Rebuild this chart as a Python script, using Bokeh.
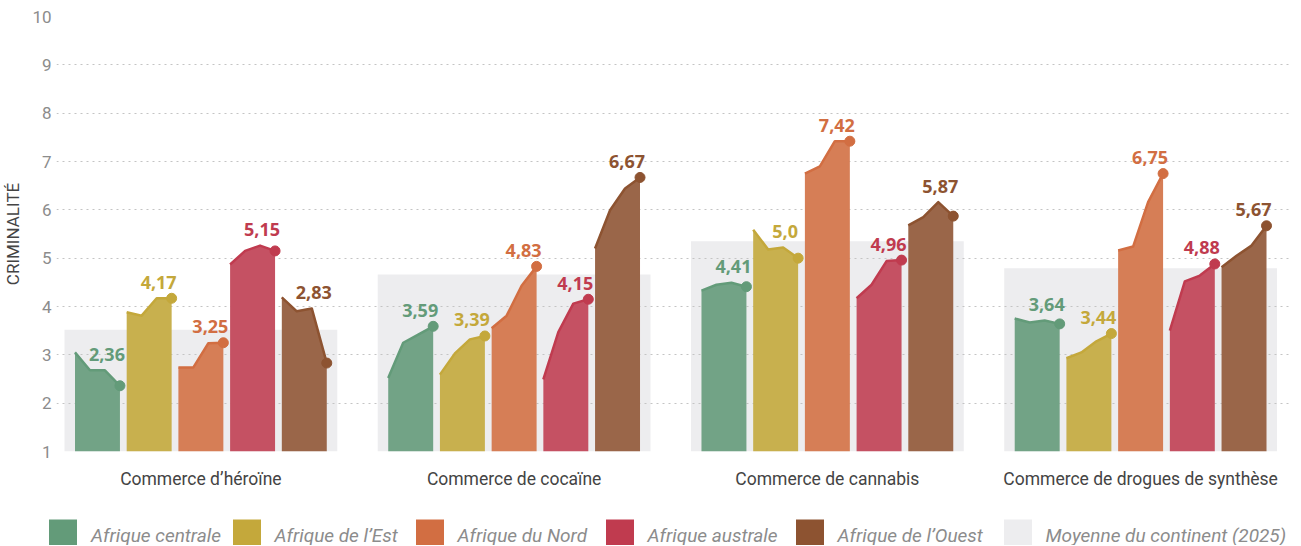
import numpy as np
from bokeh.plotting import figure
from bokeh.layouts import column, row
from bokeh.models import Range1d, FixedTicker, Legend, LegendItem
from bokeh.embed import file_html
from bokeh.resources import INLINE
from bokeh.core.properties import value

# ---------------- data ----------------
categories = ["Commerce d’héroïne", "Commerce de cocaïne",
              "Commerce de cannabis", "Commerce de drogues de synthèse"]
regions = ["Afrique centrale", "Afrique de l’Est", "Afrique du Nord",
           "Afrique australe", "Afrique de l’Ouest"]
years = [2019, 2021, 2023, 2025]

# one list of 4 yearly scores per category
afrique_centrale = [[3.05, 2.68, 2.68, 2.36], [2.52, 3.25, 3.42, 3.59],
                    [4.33, 4.45, 4.49, 4.41], [3.75, 3.67, 3.71, 3.64]]
afrique_est = [[3.88, 3.81, 4.17, 4.17], [2.59, 3.03, 3.32, 3.39],
               [5.59, 5.18, 5.22, 5.00], [2.93, 3.05, 3.28, 3.44]]
afrique_nord = [[2.74, 2.74, 3.24, 3.25], [3.55, 3.81, 4.43, 4.83],
                [6.75, 6.90, 7.42, 7.42], [5.16, 5.24, 6.16, 6.75]]
afrique_australe = [[4.87, 5.15, 5.26, 5.15], [2.49, 3.47, 4.06, 4.15],
                    [4.17, 4.45, 4.94, 4.96], [3.50, 4.52, 4.64, 4.88]]
afrique_ouest = [[4.19, 3.90, 3.96, 2.83], [5.20, 5.99, 6.44, 6.67],
                 [5.68, 5.85, 6.16, 5.87], [4.81, 5.05, 5.26, 5.67]]
moyenne_continent = [3.52, 4.66, 5.35, 4.79]
avg_label = "Moyenne du continent (2025)"
y_ticks = [1, 2, 3, 4, 5, 6, 7, 8, 9, 10]

series = [afrique_centrale, afrique_est, afrique_nord, afrique_australe, afrique_ouest]

# ---------------- style ----------------
main_colors = ["#639B79", "#C4A83B", "#D26E42", "#C03B4F", "#8D5331"]
fill_colors = ["#72A386", "#C8B04E", "#D67E56", "#C55163", "#9A6649"]
bg_color = "#EDEDEF"
PX = 313.5                 # pixels per category unit
BAR_W = 45 / PX
BAR_PITCH = 51.75 / PX
BG_W = 273 / PX
FONT = "Roboto"
W = 1298
LEGEND_SWATCH_X = [48.5, 232, 415, 605, 795, 1003]   # pixel position of each swatch

p = figure(width=W, height=500,
           min_border_left=55, min_border_right=8, min_border_top=16, min_border_bottom=49,
           x_range=Range1d(-0.4609, 3.4785), y_range=Range1d(1, 10),
           output_backend="svg", toolbar_location=None)
p.outline_line_color = None
p.xgrid.visible = False
p.ygrid.grid_line_color = "#C4C4C4"
p.ygrid.grid_line_dash = "2 4"
p.ygrid.grid_line_width = 1

# continental average background
p.quad(left=[i - BG_W / 2 for i in range(len(categories))],
       right=[i + BG_W / 2 for i in range(len(categories))],
       bottom=[1] * len(categories), top=moyenne_continent,
       fill_color=bg_color, line_color=None, level="image")

for j, (name, data) in enumerate(zip(regions, series)):
    xs_p, ys_p, xs_l, ys_l = [], [], [], []
    dot_x, dot_y, lab_x, lab_y, lab_t = [], [], [], [], []
    for i, vals in enumerate(data):
        left = i + (j - 2) * BAR_PITCH - BAR_W / 2
        right = left + BAR_W
        px = [left + (yr - years[0]) / (years[-1] - years[0]) * BAR_W for yr in years]
        xs_p.append([left] + px + [right])
        ys_p.append([1] + list(vals) + [1])
        xs_l.append(px)
        ys_l.append(list(vals))
        dot_x.append(px[-1]); dot_y.append(vals[-1])
        lab_x.append(right); lab_y.append(max(vals[1:]))
        s = f"{vals[-1]:.2f}"
        if s.endswith("0"):
            s = s[:-1]
        lab_t.append(s.replace(".", ","))
    p.patches(xs_p, ys_p, fill_color=fill_colors[j], line_color=None)
    p.multi_line(xs_l, ys_l, line_color=main_colors[j], line_width=2.5, line_join="round")
    p.scatter(dot_x, dot_y, size=10, fill_color=main_colors[j], line_color=main_colors[j])
    p.text(lab_x, lab_y, text=lab_t, x_offset=-13, y_offset=-16,
           text_align="center", text_baseline="middle",
           text_font=value("Open Sans"), text_font_style="bold",
           text_font_size="18px", text_color=main_colors[j])

# axes
p.yaxis.ticker = FixedTicker(ticks=y_ticks)
p.yaxis.axis_line_color = None
p.yaxis.major_tick_out = 0
p.yaxis.major_tick_in = 0
p.yaxis.minor_tick_out = 0
p.yaxis.minor_tick_in = 0
p.yaxis.major_label_standoff = 5
p.yaxis.major_label_text_font = FONT
p.yaxis.major_label_text_font_size = "17px"
p.yaxis.major_label_text_color = "#8C8C8C"
p.yaxis.axis_label = "CRIMINALITÉ"
p.yaxis.axis_label_text_font = FONT
p.yaxis.axis_label_text_font_style = "normal"
p.yaxis.axis_label_text_font_size = "17px"
p.yaxis.axis_label_text_color = "#444444"
p.yaxis.axis_label_standoff = 6

p.xaxis.ticker = FixedTicker(ticks=list(range(len(categories))))
p.xaxis.major_label_overrides = {i: c for i, c in enumerate(categories)}
p.xaxis.axis_line_color = None
p.xaxis.major_tick_out = 0
p.xaxis.major_tick_in = 0
p.xaxis.minor_tick_out = 0
p.xaxis.minor_tick_in = 0
p.xaxis.major_label_standoff = 17
p.xaxis.major_label_text_font = FONT
p.xaxis.major_label_text_font_size = "17.5px"
p.xaxis.major_label_text_color = "#444444"

# ---------------- legend strip ----------------
leg = figure(width=W, height=45, min_border=0, min_border_left=0, min_border_right=0,
             min_border_top=0, min_border_bottom=0,
             x_range=Range1d(0, 1), y_range=Range1d(0, 1),
             output_backend="svg", toolbar_location=None)
leg.axis.visible = False
leg.grid.visible = False
leg.outline_line_color = None
for k, (name, c) in enumerate(zip(regions + [avg_label], main_colors + [bg_color])):
    # swatch renderer kept outside the visible range; only its legend entry shows
    r = leg.quad(left=[-3], right=[-2], top=[-2], bottom=[-3], fill_color=c, line_color=None)
    lg = Legend(items=[LegendItem(label=name, renderers=[r])], orientation="horizontal",
                location=(LEGEND_SWATCH_X[k] - 3.5, -10),
                glyph_width=35, glyph_height=40, label_standoff=11,
                padding=0, margin=0, border_line_color=None, background_fill_alpha=0,
                label_text_font=FONT, label_text_font_style="italic",
                label_text_font_size="19px", label_text_color="#8C8C8C")
    leg.add_layout(lg, "center")

open("out.html", "w").write(file_html(column(p, row(leg)), INLINE))
